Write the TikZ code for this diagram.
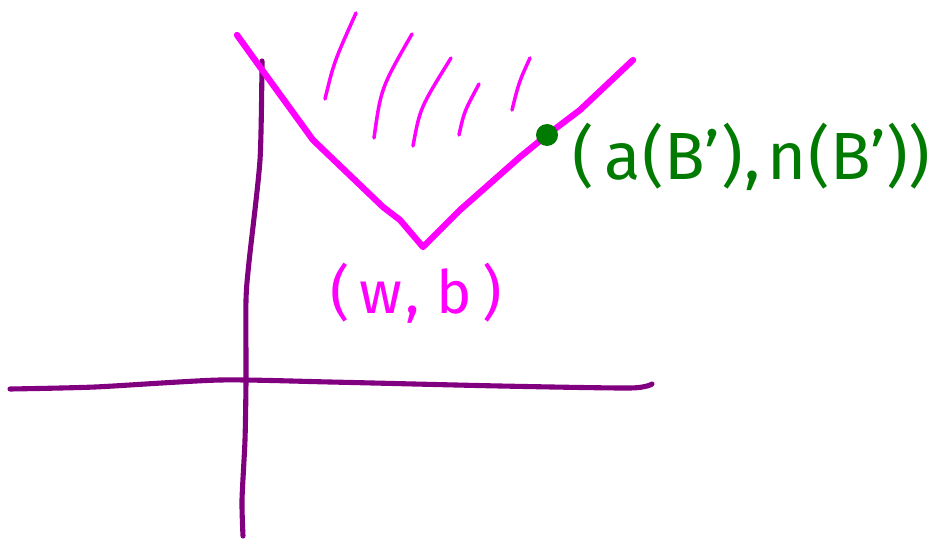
\documentclass[tikz,border=0pt]{standalone}
\usepackage{fontspec}
\setmainfont{Fira Sans}
\usepackage{xcolor}
\usetikzlibrary{positioning}
\definecolor{axispurple}{HTML}{800080}
\definecolor{conemag}{HTML}{FF00FF}
\definecolor{ptgreen}{HTML}{007A00}

\begin{document}
\begin{tikzpicture}[
    x=0.02cm, y=-0.02cm,
    axis/.style={draw=axispurple, line width=2.9pt, line cap=round, line join=round},
    cone/.style={draw=conemag, line width=3.6pt, line cap=round, line join=round},
    hatch/.style={draw=conemag, line width=2pt, line cap=round},
    lbl/.style={inner sep=0pt, font=\fontsize{33}{38}\selectfont}
]
\useasboundingbox (0,0) rectangle (945,540);
% axes
\draw[axis] plot[smooth, tension=0.4] coordinates {(10,389) (95,387) (220,380) (330,382) (500,386) (630,388) (652,384)};
\draw[axis] plot[smooth, tension=0.4] coordinates {(262,61) (260,160) (249,262) (246,300) (246,380) (245,440) (242,500) (243,536)};
% cone with apex (w,b)
\coordinate (apex) at (423,247);
\coordinate (pt) at (547,135);
\draw[cone] (237,35) -- (260,67) -- (313,140) -- (383,207) -- (400,220) -- (apex)
    -- (460,210) -- (520,157) -- (pt) -- (580,110) -- (633,60);
% hatching
\draw[hatch] (325,99) .. controls (334,62) .. (356,13);
\draw[hatch] (374,138) .. controls (381,88) .. (412,34);
\draw[hatch] (413,146) .. controls (420,108) .. (451,58);
\draw[hatch] (459,135) .. controls (464,112) .. (479,84);
\draw[hatch] (512,110) .. controls (519,82) .. (530,58);
% points
\fill[ptgreen] (pt) circle (11);
\node[lbl, text=conemag, font=\fontsize{34}{40}\selectfont] (wb) at (416,293) {(\,w\kern2pt,\;b\,)};
\node[lbl, text=ptgreen, anchor=west, font=\fontsize{38}{44}\selectfont] (aB) at (572,157) {(\kern6pt a\kern1pt(B'\kern1pt)\kern1pt,\kern4pt n\kern1pt(B'\kern1pt))};
\end{tikzpicture}
\end{document}
